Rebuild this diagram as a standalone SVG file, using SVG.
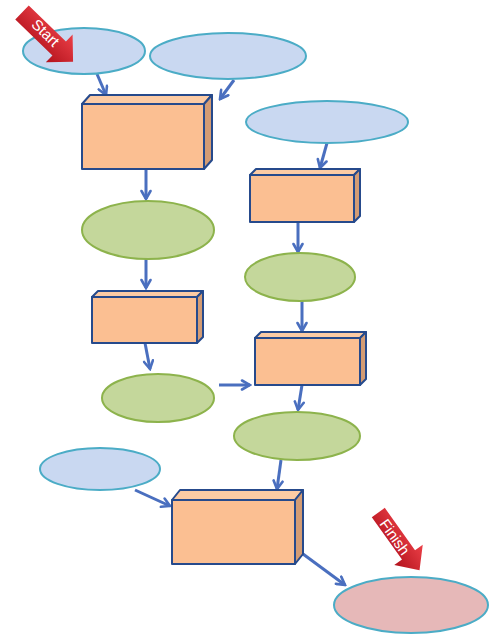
<svg xmlns="http://www.w3.org/2000/svg" width="500" height="643" viewBox="0 0 500 643">
<style>
.blue{fill:#c9d8f1;stroke:#4bacc6;stroke-width:2}
.green{fill:#c4d79b;stroke:#8db34c;stroke-width:2}
.pink{fill:#e6b8b8;stroke:#4bacc6;stroke-width:2}
.front{fill:#fbbf92;stroke:#264a8c;stroke-width:2;stroke-linejoin:round}
.top{fill:#fccba4;stroke:#264a8c;stroke-width:2;stroke-linejoin:round}
.side{fill:#d49c74;stroke:#264a8c;stroke-width:2;stroke-linejoin:round}
.conn{fill:none;stroke:#4a6fbf;stroke-width:3;marker-end:url(#ah)}
.lbl{font-family:"Liberation Sans",Arial,sans-serif;font-size:15px;fill:#ffffff;text-anchor:middle}
</style>
<defs>
<marker id="ah" viewBox="0 0 12 12" refX="10" refY="6" markerWidth="12" markerHeight="12" markerUnits="userSpaceOnUse" orient="auto">
<path d="M2,1.5 L10,6 L2,10.5" fill="none" stroke="#4a6fbf" stroke-width="2.6" stroke-linecap="round" stroke-linejoin="miter"/>
</marker>
<linearGradient id="red" x1="0" y1="0" x2="0" y2="1">
<stop offset="0" stop-color="#ec4048"/>
<stop offset="1" stop-color="#b2121c"/>
</linearGradient>
</defs>

<g id="connectors">
<line class="conn" x1="97" y1="74" x2="106" y2="95"/>
<line class="conn" x1="234" y1="80" x2="220" y2="99"/>
<line class="conn" x1="146" y1="169" x2="146" y2="199"/>
<line class="conn" x1="327" y1="143" x2="320" y2="168"/>
<line class="conn" x1="298" y1="222" x2="298" y2="252"/>
<line class="conn" x1="146" y1="259" x2="146" y2="288"/>
<line class="conn" x1="145" y1="343" x2="150" y2="369"/>
<line class="conn" x1="302" y1="301" x2="302" y2="331"/>
<line class="conn" x1="219" y1="385" x2="250" y2="385"/>
<line class="conn" x1="302" y1="385" x2="298" y2="410"/>
<line class="conn" x1="281" y1="460" x2="277" y2="489"/>
<line class="conn" x1="135" y1="490" x2="170" y2="506"/>
<line class="conn" x1="303" y1="554" x2="345" y2="585"/>
</g>

<g id="e1"><ellipse class="blue" cx="84" cy="51" rx="61" ry="23"/></g>
<g id="e2"><ellipse class="blue" cx="228" cy="56" rx="78" ry="23"/></g>
<g id="e3"><ellipse class="blue" cx="327" cy="122" rx="81" ry="21"/></g>

<g id="b1">
<path class="top" d="M82,104 L90,95 L212,95 L204,104 Z"/>
<path class="side" d="M204,104 L212,95 L212,160 L204,169 Z"/>
<rect class="front" x="82" y="104" width="122" height="65"/>
</g>
<g id="b2">
<path class="top" d="M250,175 L256,169 L360,169 L354,175 Z"/>
<path class="side" d="M354,175 L360,169 L360,216 L354,222 Z"/>
<rect class="front" x="250" y="175" width="104" height="47"/>
</g>

<g id="g1"><ellipse class="green" cx="148" cy="230" rx="66" ry="29"/></g>
<g id="g2"><ellipse class="green" cx="300" cy="277" rx="55" ry="24"/></g>

<g id="b3">
<path class="top" d="M92,297 L98,291 L203,291 L197,297 Z"/>
<path class="side" d="M197,297 L203,291 L203,337 L197,343 Z"/>
<rect class="front" x="92" y="297" width="105" height="46"/>
</g>
<g id="b4">
<path class="top" d="M255,338 L261,332 L366,332 L360,338 Z"/>
<path class="side" d="M360,338 L366,332 L366,379 L360,385 Z"/>
<rect class="front" x="255" y="338" width="105" height="47"/>
</g>

<g id="g3"><ellipse class="green" cx="158" cy="398" rx="56" ry="24"/></g>
<g id="g4"><ellipse class="green" cx="297" cy="436" rx="63" ry="24"/></g>
<g id="e4"><ellipse class="blue" cx="100" cy="469" rx="60" ry="21"/></g>

<g id="b5">
<path class="top" d="M172,500 L180,490 L303,490 L295,500 Z"/>
<path class="side" d="M295,500 L303,490 L303,554 L295,564 Z"/>
<rect class="front" x="172" y="500" width="123" height="64"/>
</g>

<g id="finish-node"><ellipse class="pink" cx="411" cy="605" rx="77" ry="28"/></g>

<g id="start" transform="translate(22,12.5) rotate(44)">
<polygon points="0,-9.7 51.7,-9.7 51.7,-19.3 71,0 51.7,19.3 51.7,9.7 0,9.7" fill="url(#red)"/>
<text class="lbl" x="31" y="3.5">Start</text>
</g>
<g id="finish" transform="translate(378.3,512.5) rotate(54.5)">
<polygon points="0,-8 52,-8 52,-17.5 71,0 52,17.5 52,8 0,8" fill="url(#red)"/>
<text class="lbl" x="29.5" y="6">Finish</text>
</g>
</svg>
